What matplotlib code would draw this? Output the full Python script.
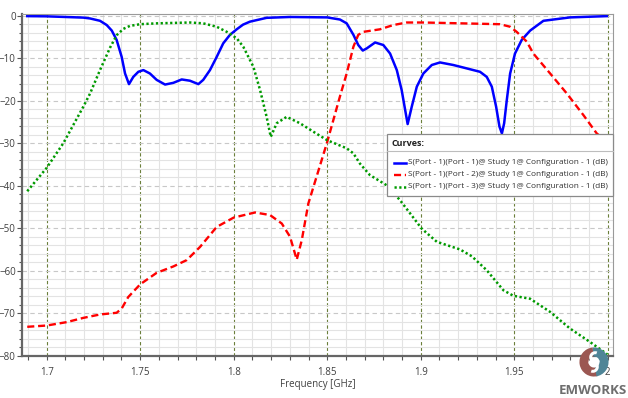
import matplotlib
matplotlib.use("Agg")
import matplotlib.pyplot as plt
from matplotlib.lines import Line2D
from matplotlib.patches import Wedge, Rectangle
from matplotlib.ticker import MultipleLocator, FixedLocator

# ---------------- data ----------------
f_s11 = [1.6896, 1.7, 1.71, 1.7196, 1.7232, 1.7285, 1.7321, 1.7348, 1.7374, 1.7401,
         1.7419, 1.744, 1.7463, 1.749, 1.7517, 1.7552, 1.7588, 1.7633, 1.7677, 1.7722,
         1.7766, 1.7811, 1.7837, 1.7873, 1.7909, 1.7944, 1.798, 1.8016, 1.805, 1.8087,
         1.8176, 1.83, 1.85, 1.8568, 1.8604, 1.864, 1.8666, 1.869, 1.8711, 1.8756,
         1.88, 1.8836, 1.8872, 1.8898, 1.892, 1.893, 1.8952, 1.8979, 1.9014, 1.9059,
         1.9103, 1.9174, 1.9246, 1.9317, 1.9353, 1.938, 1.9403, 1.9421, 1.9434, 1.9446,
         1.946, 1.9478, 1.9504, 1.954, 1.9585, 1.9656, 1.9798, 1.9995]
s11 = [-0.1, -0.15, -0.3, -0.45, -0.65, -1.2, -2.2, -3.5, -5.7, -9.7,
       -13.6, -16.1, -14.4, -13.2, -12.8, -13.6, -15.1, -16.2, -15.8, -15.0,
       -15.3, -16.1, -15.1, -12.8, -9.7, -6.5, -4.5, -3.2, -2.1, -1.4,
       -0.5, -0.3, -0.4, -0.9, -1.8, -4.5, -6.9, -8.2, -7.7, -6.3,
       -6.9, -8.9, -12.8, -17.5, -23.0, -25.5, -21.4, -16.7, -13.6, -11.6,
       -11.0, -11.6, -12.4, -13.2, -14.4, -16.7, -21.4, -26.1, -27.7, -25.3,
       -19.9, -13.6, -8.9, -5.7, -3.5, -1.2, -0.4, -0.1]

f_s21 = [1.6896, 1.7, 1.7107, 1.7196, 1.7285, 1.7374, 1.7401, 1.7436, 1.75, 1.7588,
         1.7677, 1.7749, 1.782, 1.7873, 1.7909, 1.8, 1.8114, 1.8194, 1.8257, 1.8301,
         1.8337, 1.8364, 1.8399, 1.85, 1.8568, 1.8604, 1.864, 1.8666, 1.8693, 1.8782,
         1.8853, 1.8925, 1.9014, 1.9424, 1.9478, 1.9513, 1.9567, 1.9602, 1.9692, 1.9781,
         1.987, 1.9941, 2.0]
s21 = [-73.2, -72.9, -72.1, -71.1, -70.3, -69.9, -68.9, -66.2, -63.2, -60.5,
       -59.0, -57.5, -54.4, -51.6, -49.7, -47.5, -46.3, -46.9, -48.9, -52.0,
       -57.4, -52.8, -44.2, -29.7, -19.0, -13.6, -7.3, -4.5, -3.8, -3.2,
       -2.2, -1.6, -1.6, -2.0, -2.6, -3.8, -6.1, -8.9, -13.6, -18.3,
       -23.4, -27.7, -29.8]

f_s31 = [1.6896, 1.7, 1.7089, 1.7196, 1.7232, 1.7285, 1.7339, 1.7374, 1.741, 1.7445,
         1.75, 1.7588, 1.7766, 1.7837, 1.7909, 1.7963, 1.8016, 1.8051, 1.8105, 1.8141,
         1.8176, 1.8198, 1.823, 1.8283, 1.8354, 1.8426, 1.85, 1.8604, 1.864, 1.8675,
         1.8728, 1.8818, 1.8889, 1.8943, 1.9005, 1.9086, 1.921, 1.9273, 1.9353, 1.9442,
         1.9495, 1.9585, 1.9692, 1.9798, 1.9906, 1.9998]
s31 = [-41.3, -35.8, -30.0, -21.4, -18.3, -12.8, -7.5, -4.6, -3.1, -2.4,
       -2.0, -1.8, -1.6, -1.8, -2.6, -3.8, -5.3, -7.3, -12.0, -17.5,
       -23.8, -28.5, -25.3, -23.8, -25.3, -27.3, -29.3, -31.2, -32.4, -34.8,
       -37.5, -39.9, -43.4, -46.5, -50.1, -53.2, -55.0, -56.6, -59.9, -64.6,
       -65.9, -66.6, -69.7, -73.6, -76.8, -79.7]

labels = ["S(Port - 1)(Port - 1)@ Study 1@ Configuration - 1 (dB)",
          "S(Port - 1)(Port - 2)@ Study 1@ Configuration - 1 (dB)",
          "S(Port - 1)(Port - 3)@ Study 1@ Configuration - 1 (dB)"]
x_ticks = [1.7, 1.75, 1.8, 1.85, 1.9, 1.95, 2.0]
x_ticklabels = ["1.7", "1.75", "1.8", "1.85", "1.9", "1.95", "2"]
y_ticks = [0, -10, -20, -30, -40, -50, -60, -70, -80]

# ---------------- figure ----------------
W, H = 628, 398
plt.rcParams['font.family'] = ['Open Sans', 'DejaVu Sans']
fig = plt.figure(figsize=(W / 100, H / 100), dpi=100)
fig.patch.set_facecolor('white')

def fx(px):
    return px / W

def fy(py):
    return 1 - py / H

L, R, T, B = 22, 613, 14, 356
ax = fig.add_axes([fx(L), fy(B), (R - L) / W, (B - T) / H])
ax.set_xlim(1.6868, 2.0028)
ax.set_ylim(-80.07, 0.4)

# grid
ax.xaxis.set_major_locator(FixedLocator(x_ticks))
ax.xaxis.set_minor_locator(MultipleLocator(0.01))
ax.yaxis.set_major_locator(FixedLocator(y_ticks))
ax.yaxis.set_minor_locator(MultipleLocator(2))
ax.grid(which='minor', axis='both', color='#e3e3e3', linewidth=0.8, linestyle='-')
ax.grid(which='major', axis='y', color='#c8c8c8', linewidth=0.8, linestyle=(0, (4, 3)))
ax.grid(which='major', axis='x', color='#6b7f3a', linewidth=0.8, linestyle=(0, (3, 2)))
ax.set_axisbelow(True)

ax.set_xticklabels(x_ticklabels)
ax.tick_params(axis='both', which='both', colors='#555555', labelcolor='#404040', labelsize=7)
ax.tick_params(axis='x', which='major', length=3, pad=5, width=0.8)
ax.tick_params(axis='x', which='minor', length=3, width=0.8)
ax.tick_params(axis='y', which='major', length=3.5, pad=1, width=0.8)
ax.tick_params(axis='y', which='minor', length=2.5, width=0.8)

for s in ['left', 'bottom']:
    ax.spines[s].set_color('#666666')
    ax.spines[s].set_linewidth(1.6)
for s in ['top', 'right']:
    ax.spines[s].set_color('#9a9a9a')
    ax.spines[s].set_linewidth(0.8)

ax.set_xlabel("Frequency [GHz]", fontsize=7, color='#404040', labelpad=1)

# curves
ax.plot(f_s11, s11, color='#0000ff', linewidth=1.8, solid_joinstyle='round')
ax.plot(f_s21, s21, color='#ff0000', linewidth=1.7, linestyle=(0, (3, 1.6)))
ax.plot(f_s31, s31, color='#009a00', linewidth=1.8, linestyle=(0, (0.9, 1.0)))

# ---------------- legend (manual) ----------------
lx0, lx1, ly0, ly1 = 387, 613, 134, 196
fig.patches.append(Rectangle((fx(lx0), fy(ly1)), (lx1 - lx0) / W, (ly1 - ly0) / H,
                             transform=fig.transFigure, facecolor='white',
                             edgecolor='#8a8a8a', linewidth=0.9, zorder=5))
fig.lines.append(Line2D([fx(lx0), fx(lx1)], [fy(151), fy(151)],
                        transform=fig.transFigure, color='#bdbdbd', linewidth=0.8, zorder=6))
fig.text(fx(392), fy(144), "Curves:", fontsize=6.5, fontweight='bold', color='#202020',
         va='center', ha='left', zorder=7)
styles = [dict(color='#0000ff', linewidth=1.8, linestyle='-'),
          dict(color='#ff0000', linewidth=1.7, linestyle=(0, (3, 1.6))),
          dict(color='#009a00', linewidth=1.8, linestyle=(0, (0.9, 1.0)))]
rows = [162.5, 174.5, 186.5]
texts = []
for lab, st, yy in zip(labels, styles, rows):
    fig.lines.append(Line2D([fx(394), fx(406)], [fy(yy), fy(yy)],
                            transform=fig.transFigure, zorder=7, **st))
    texts.append(fig.text(fx(408), fy(yy), lab, fontsize=6.4, color='#303030',
                          va='center', ha='left', zorder=7))
# fit legend text width to ~200 px like the reference
renderer = fig.canvas.get_renderer()
wmax = max(t.get_window_extent(renderer).width for t in texts)
fs = 6.4 * 200.0 / wmax
for t in texts:
    t.set_fontsize(fs)

# ---------------- logo ----------------
lax = fig.add_axes([fx(579), fy(377), 30 / W, 30 / H])
lax.set_xlim(-1.0, 1.0)
lax.set_ylim(-1.0, 1.0)
lax.set_aspect('equal')
lax.axis('off')
lax.patch.set_alpha(0)
lax.add_patch(Wedge((0, 0), 0.97, 95, 285, width=0.6, facecolor='#9b5752', edgecolor='none'))
lax.add_patch(Wedge((0, 0), 0.97, -80, 95, width=0.6, facecolor='#4f8597', edgecolor='none'))
lax.add_patch(Wedge((0.08, 0.32), 0.40, 70, 320, width=0.2, facecolor='white', edgecolor='none'))
lax.add_patch(Wedge((-0.08, -0.32), 0.40, -110, 140, width=0.2, facecolor='white', edgecolor='none'))
fig.text(fx(593), fy(391), "EMWORKS", fontsize=9.5, fontweight='bold', color='#6e6e6e',
         ha='center', va='center')

fig.savefig("out.png", dpi=100, facecolor='white')
